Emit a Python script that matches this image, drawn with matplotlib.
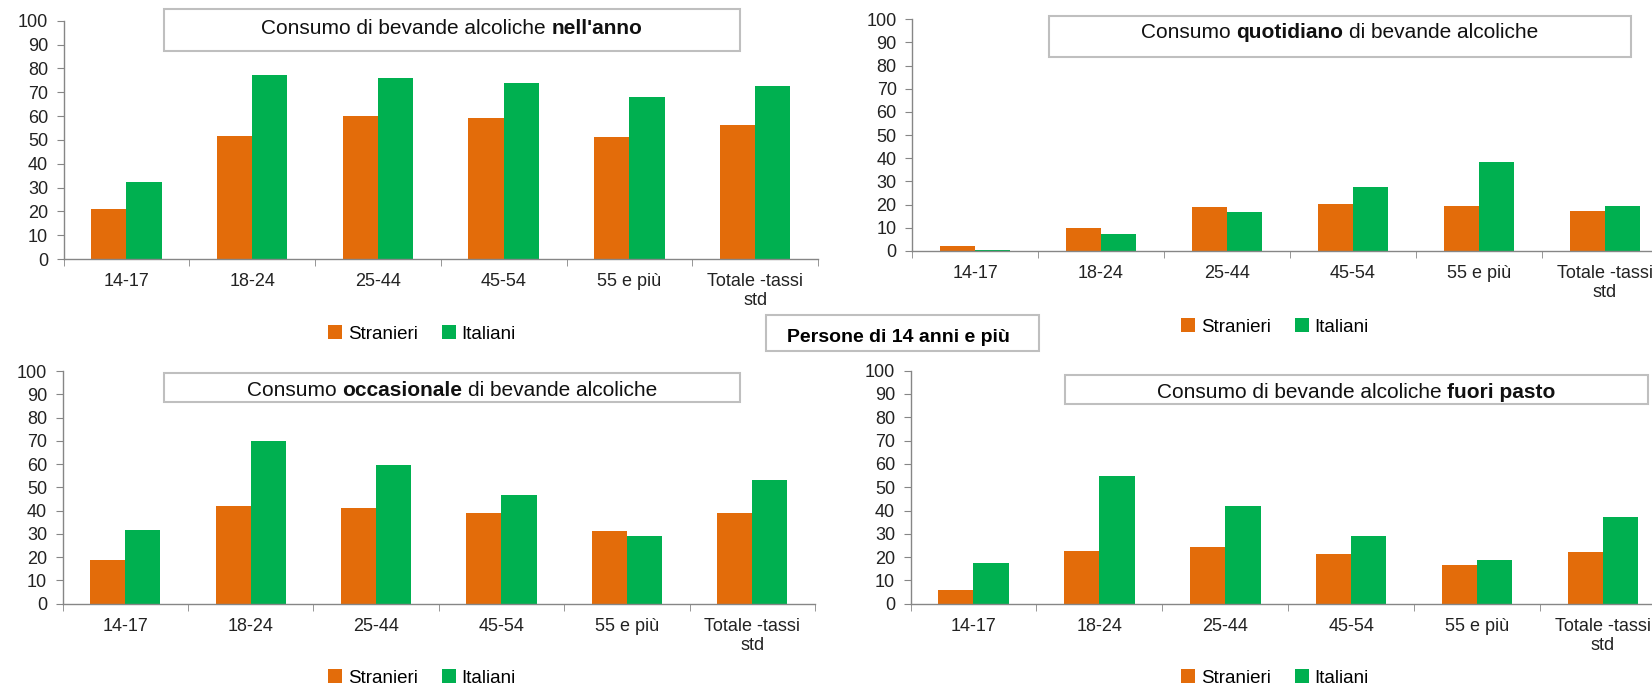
import matplotlib
matplotlib.use("Agg")
import matplotlib.pyplot as plt
from matplotlib.patches import Rectangle
import numpy as np

plt.rcParams['font.family'] = ['Liberation Sans', 'DejaVu Sans']

# data
categories = ["14-17", "18-24", "25-44", "45-54", "55 e più", "Totale -tassi\nstd"]
series_names = ["Stranieri", "Italiani"]

anno_stranieri = [20.9, 51.7, 60.2, 59.2, 51.0, 56.1]
anno_italiani = [32.3, 77.1, 76.1, 74.0, 67.9, 72.6]

quotidiano_stranieri = [2.3, 9.8, 19.0, 20.1, 19.3, 17.3]
quotidiano_italiani = [0.6, 7.2, 16.8, 27.5, 38.6, 19.3]

occasionale_stranieri = [18.9, 42.0, 41.3, 38.8, 31.4, 38.8]
occasionale_italiani = [31.8, 70.1, 59.5, 46.6, 29.2, 53.3]

fuori_stranieri = [5.7, 22.7, 24.2, 21.3, 16.5, 22.0]
fuori_italiani = [17.5, 54.6, 41.9, 29.2, 18.9, 37.1]

ORANGE = "#E36C0A"
GREEN = "#00B050"
GRAY = "#868686"

W, H = 1652, 687
fig = plt.figure(figsize=(W / 100, H / 100), dpi=100)


def fx(px):
    return px / W


def fy(py):
    return 1 - py / H


def panel(left, right, top, bottom, s_vals, i_vals, legend_xy):
    ax = fig.add_axes([fx(left), fy(bottom), fx(right) - fx(left), fy(top) - fy(bottom)])
    x = np.arange(len(categories))
    w = 0.28
    b1 = ax.bar(x - w / 2, s_vals, w, color=ORANGE, label=series_names[0])
    b2 = ax.bar(x + w / 2, i_vals, w, color=GREEN, label=series_names[1])
    ax.set_xlim(-0.5, len(categories) - 0.5)
    ax.set_ylim(0, 100)
    ax.set_yticks(range(0, 101, 10))
    ax.set_xticks(x)
    ax.set_xticklabels(categories)
    ax.set_xticks(np.arange(-0.5, len(categories), 1), minor=True)
    ax.tick_params(axis='x', which='major', length=0, pad=10, labelsize=13, colors='#222222')
    ax.tick_params(axis='x', which='minor', length=5, color=GRAY, direction='out')
    ax.tick_params(axis='y', length=5, color=GRAY, labelsize=13, labelcolor='#222222', pad=6)
    for s in ['top', 'right']:
        ax.spines[s].set_visible(False)
    for s in ['left', 'bottom']:
        ax.spines[s].set_color(GRAY)
        ax.spines[s].set_linewidth(1.0)
    fig.legend([b1, b2], series_names, loc='center',
               bbox_to_anchor=(fx(legend_xy[0]), fy(legend_xy[1])),
               ncol=2, frameon=False, fontsize=13.5, handlelength=0.75,
               handleheight=0.75, handletextpad=0.3, columnspacing=1.3)
    return ax


def box_title(x0, y0, x1, y1, parts, ty, size=15):
    fig.patches.append(Rectangle((fx(x0), fy(y1)), fx(x1) - fx(x0), fy(y0) - fy(y1),
                                 transform=fig.transFigure, fill=False,
                                 ec='#BFBFBF', lw=1.5, zorder=5))
    r = fig.canvas.get_renderer()
    t1 = fig.text(0, 0, "xx", fontsize=size)
    t2 = fig.text(0, 0, "x x", fontsize=size)
    gap = t2.get_window_extent(r).width - t1.get_window_extent(r).width
    t1.remove()
    t2.remove()
    texts = [fig.text(0, fy(ty), s, fontsize=size, weight=wt, va='center',
                      color='#111111', zorder=6) for s, wt in parts]
    widths = [t.get_window_extent(r).width for t in texts]
    total = sum(widths) + gap * (len(texts) - 1)
    xx = (x0 + x1) / 2 - total / 2
    for t, wd in zip(texts, widths):
        t.set_x(fx(xx))
        xx += wd + gap


panel(63.5, 818, 20.7, 259, anno_stranieri, anno_italiani, (422, 334))
panel(912, 1668, 19.3, 251, quotidiano_stranieri, quotidiano_italiani, (1275, 327))
panel(62.5, 815, 371, 603.7, occasionale_stranieri, occasionale_italiani, (422, 678))
panel(910.5, 1666, 370.7, 603.7, fuori_stranieri, fuori_italiani, (1275, 678))

box_title(164, 9.3, 740, 50.7,
          [("Consumo di bevande alcoliche", 'normal'), ("nell'anno", 'bold')], 28)
box_title(1048.6, 15.7, 1631, 57.3,
          [("Consumo", 'normal'), ("quotidiano", 'bold'), ("di bevande alcoliche", 'normal')], 33)
box_title(164, 372.7, 740, 401.7,
          [("Consumo", 'normal'), ("occasionale", 'bold'), ("di bevande alcoliche", 'normal')], 390)
box_title(1064.5, 375, 1648, 404,
          [("Consumo di bevande alcoliche", 'normal'), ("fuori pasto", 'bold')], 393)

# central box
fig.patches.append(Rectangle((fx(766), fy(350.7)), fx(1039) - fx(766), fy(315) - fy(350.7),
                             transform=fig.transFigure, facecolor='white',
                             ec='#BFBFBF', lw=1.5, zorder=5))
fig.text(fx(898), fy(338), "Persone di 14 anni e più", ha='center', va='center',
         fontsize=14, weight='bold', zorder=6)

fig.savefig("out.png", dpi=100)
